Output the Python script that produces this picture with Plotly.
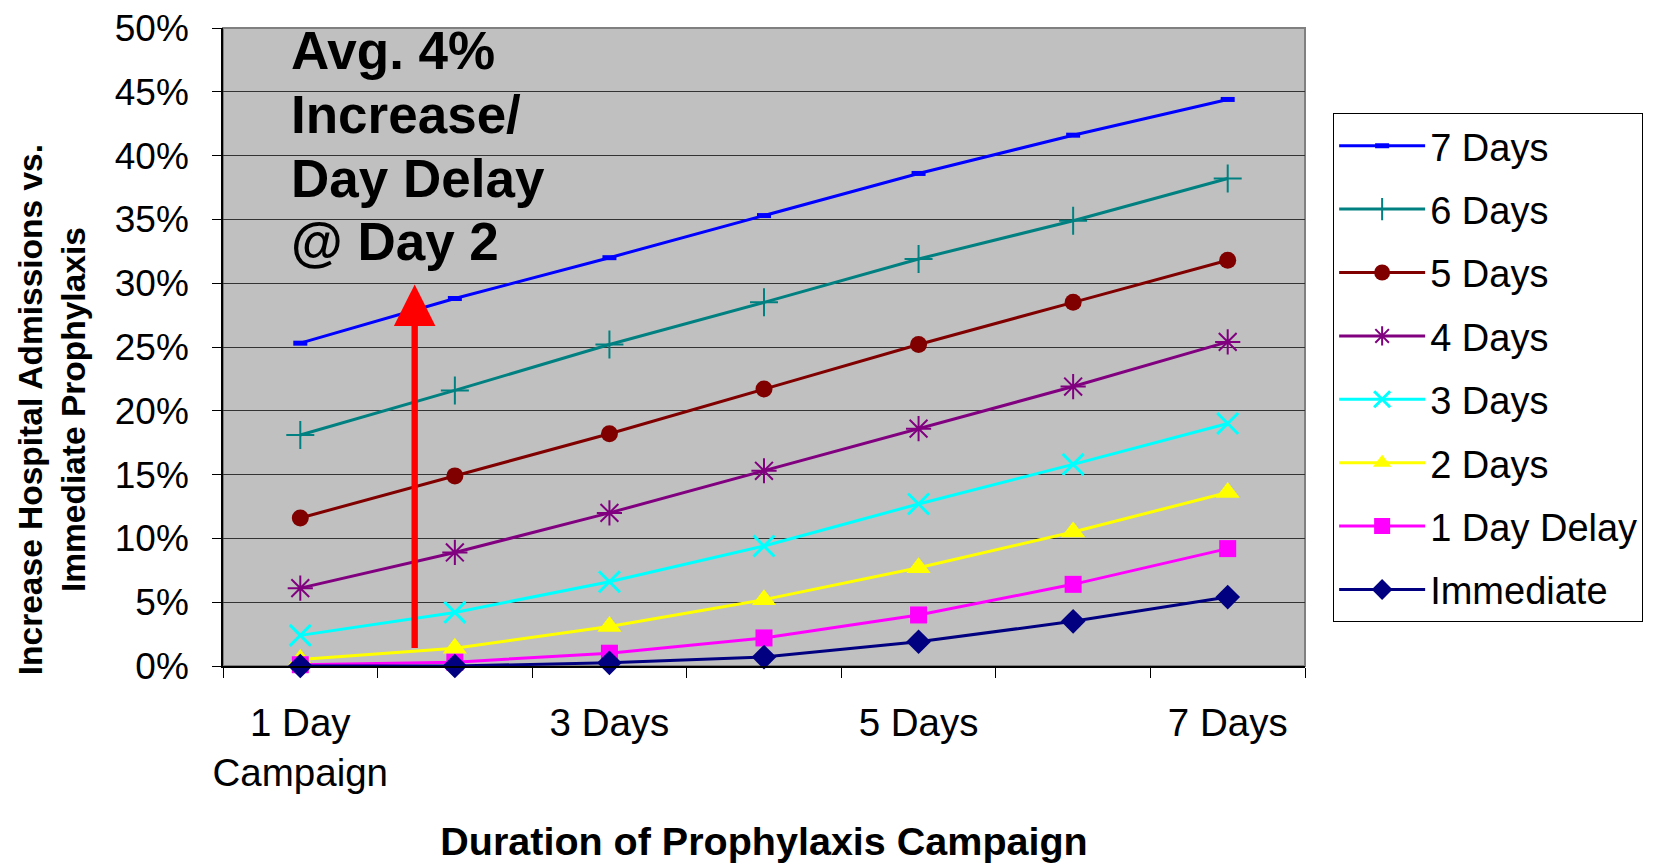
import plotly.graph_objects as go

categories = ["1 Day", "2 Days", "3 Days", "4 Days", "5 Days", "6 Days", "7 Days"]
tick_text = ["1 Day<br>Campaign", "", "3 Days", "", "5 Days", "", "7 Days"]

series_names = ["7 Days", "6 Days", "5 Days", "4 Days", "3 Days", "2 Days", "1 Day Delay", "Immediate"]
days7 = [25.3, 28.8, 32.0, 35.3, 38.6, 41.6, 44.4]
days6 = [18.1, 21.6, 25.2, 28.5, 31.9, 34.9, 38.2]
days5 = [11.6, 14.9, 18.2, 21.7, 25.2, 28.5, 31.8]
days4 = [6.1, 8.9, 12.0, 15.3, 18.6, 21.9, 25.4]
days3 = [2.4, 4.2, 6.6, 9.4, 12.7, 15.8, 19.0]
days2 = [0.5, 1.4, 3.1, 5.2, 7.7, 10.5, 13.6]
day1_delay = [0.1, 0.3, 1.0, 2.2, 4.0, 6.4, 9.2]
immediate = [0.0, 0.0, 0.25, 0.7, 1.9, 3.5, 5.4]
series_values = [days7, days6, days5, days4, days3, days2, day1_delay, immediate]

note_lines = ["Avg. 4%", "Increase/", "Day Delay", "@ Day 2"]

colors = ["#0000FF", "#008080", "#800000", "#800080", "#00FFFF", "#FFFF00", "#FF00FF", "#000080"]
symbols = ["line-ew", "cross-thin-open", "circle", "asterisk-open", "x-thin-open",
           "triangle-up", "square", "diamond"]
sizes = [10, 20, 17, 21, 21, 21, 17, 19]
open_symbol = [True, True, False, True, True, False, False, False]
open_widths = [5, 2, 0, 2, 3, 0, 0, 0]

arrow_x = 0.74
arrow_y0 = 1.3
arrow_y1 = 29.9

note_x = -0.07
note_top = 48.2
note_step = 4.98

FONT = "Liberation Sans, Arial, sans-serif"

fig = go.Figure()
for name, vals, col, sym, sz, op, ow in zip(series_names, series_values, colors, symbols,
                                            sizes, open_symbol, open_widths):
    if op:
        marker = dict(symbol=sym, size=sz, color=col, line=dict(color=col, width=ow))
    else:
        marker = dict(symbol=sym, size=sz, color=col, line=dict(width=0))
    fig.add_trace(go.Scatter(
        x=categories, y=vals, name=name, mode="lines+markers",
        line=dict(color=col, width=3), marker=marker, legendgroup=name,
        cliponaxis=False,
    ))

fig.add_annotation(
    x=arrow_x, y=arrow_y1, ax=arrow_x, ay=arrow_y0, xref="x", yref="y",
    axref="x", ayref="y", text="", showarrow=True, arrowhead=2,
    arrowsize=1.3, arrowwidth=6.4, arrowcolor="#FF0000", standoff=0,
)
for i, line in enumerate(note_lines):
    fig.add_annotation(
        x=note_x, y=note_top - i * note_step, xref="x", yref="y",
        xanchor="left", yanchor="middle",
        text="<b>" + line + "</b>", showarrow=False, align="left",
        font=dict(family=FONT, size=53, color="black"),
    )
fig.add_annotation(
    x=-0.158, y=0.401, xref="paper", yref="paper", xanchor="center", yanchor="middle",
    text="<b>Increase Hospital Admissions vs.<br>Immediate Prophylaxis</b>",
    textangle=-90, showarrow=False, align="center",
    font=dict(family=FONT, size=33.5, color="black"),
)

fig.add_shape(type="rect", xref="paper", yref="paper", x0=0, x1=1, y0=0, y1=1,
              line=dict(color="#808080", width=2), layer="below")

fig.update_layout(
    width=1656, height=855,
    margin=dict(l=215, r=359, t=20, b=197),
    paper_bgcolor="white", plot_bgcolor="#C0C0C0",
    font=dict(family=FONT, size=37, color="black"),
    showlegend=True,
    legend=dict(
        x=1.026, xanchor="left", y=0.866, yanchor="top",
        bgcolor="white", bordercolor="black", borderwidth=1,
        font=dict(family=FONT, size=38, color="black"),
        tracegroupgap=11, itemwidth=86,
    ),
    xaxis=dict(
        type="category", range=[-0.5, 6.5], automargin=False,
        tickmode="array", tickvals=categories, ticktext=tick_text, tickangle=0,
        tickson="boundaries", ticks="outside", ticklen=10, tickcolor="black",
        showgrid=False, showline=True, linecolor="black", linewidth=2,
        ticklabelstandoff=22,
        tickfont=dict(family=FONT, size=38.5, color="black"),
        title=dict(text="<b>Duration of Prophylaxis Campaign</b>",
                   font=dict(family=FONT, size=39.5, color="black"), standoff=40),
    ),
    yaxis=dict(
        range=[0, 50], dtick=5, tick0=0, ticksuffix="%", automargin=False,
        ticks="outside", ticklen=9, tickcolor="black", ticklabeloverflow="allow",
        showgrid=True, gridcolor="#333333", gridwidth=1,
        showline=True, linecolor="black", linewidth=1.5, zeroline=False,
        ticklabelstandoff=16,
        tickfont=dict(family=FONT, size=37, color="black"),
    ),
)

fig.write_html("out.html")
